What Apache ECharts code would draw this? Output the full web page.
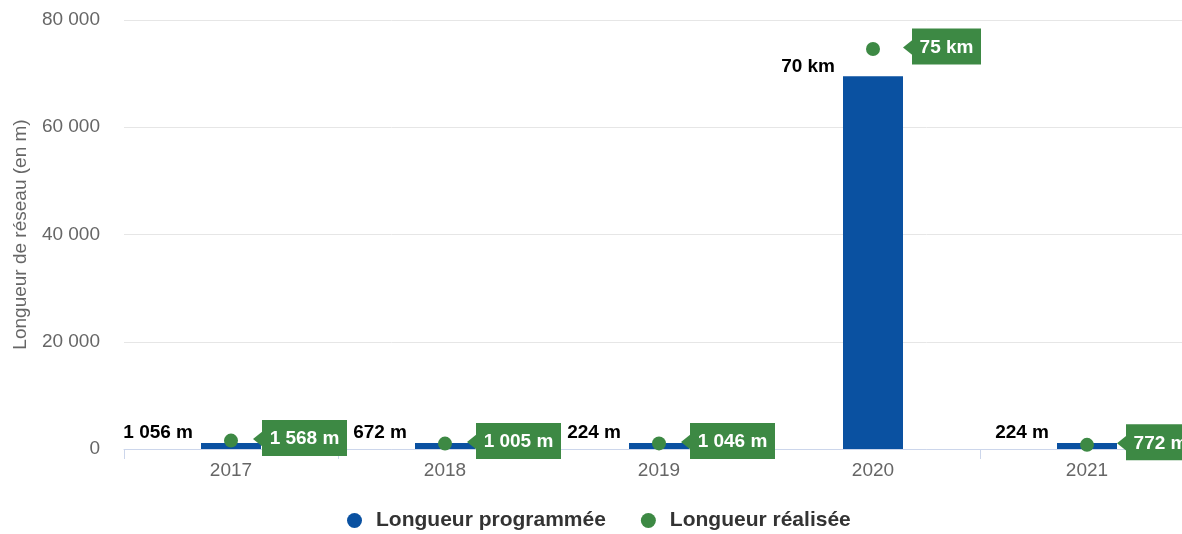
<!DOCTYPE html>
<html>
<head>
<meta charset="utf-8">
<script src="https://cdn.jsdelivr.net/npm/echarts@6/dist/echarts.min.js"></script>
<style>
  html, body { margin: 0; padding: 0; background: #fff; overflow: hidden; }
  /* drawn a little wider than the window: the right end is cut off, as in the original */
  #chart { width: 1194px; height: 534px; }
</style>
</head>
<body>
<div id="chart"></div>
<script>
var years = ['2017', '2018', '2019', '2020', '2021'];
var planned = [1056, 672, 224, 69500, 224];
var realised = [1568, 1005, 1046, 74600, 772];
var yTicks = [0, 20000, 40000, 60000, 80000];

var FONT = '"Liberation Sans", Arial, Helvetica, sans-serif';
var BLUE = '#0a51a1';
var GREEN = '#3d8944';

// "1 056 m" below 10 km, "70 km" above
function lengthLabel(v) {
  if (v >= 10000) return Math.round(v / 1000) + ' km';
  return spaced(v) + ' m';
}
function spaced(v) {
  return String(Math.round(v)).replace(/\B(?=(\d{3})+(?!\d))/g, ' ');
}

var measureCtx = document.createElement('canvas').getContext('2d');
function textWidth(t) {
  measureCtx.font = 'bold 19px ' + FONT;
  return measureCtx.measureText(t).width;
}

// green callout box with a left arrow, beside each "réalisée" point
function renderCallout(params, api) {
  var p = api.coord([api.value(0), api.value(1)]);
  var txt = lengthLabel(api.value(1));
  var w = Math.round(textWidth(txt) + 15);
  var h = 36;
  var cx = p[0] + 73.5;
  var cy = p[1] - 2.5;
  var left = cx - w / 2;
  var top = cy - h / 2;
  return {
    type: 'group',
    children: [
      { type: 'polygon', shape: { points: [[left - 9, cy + 1], [left + 1, cy - 7], [left + 1, cy + 9]] }, style: { fill: GREEN } },
      { type: 'rect', shape: { x: left, y: top, width: w, height: h }, style: { fill: GREEN } },
      { type: 'text', style: { text: txt, x: cx, y: cy + 1, align: 'center', verticalAlign: 'middle',
          fill: '#fff', fontSize: 19, fontWeight: 'bold', fontFamily: FONT } }
    ]
  };
}

var chart = echarts.init(document.getElementById('chart'), null, { renderer: 'canvas' });

chart.setOption({
  animation: false,
  backgroundColor: '#fff',
  textStyle: { fontFamily: FONT },
  grid: { left: 124, top: 20, right: 0, height: 429, containLabel: false },
  legend: {
    data: ['Longueur programmée', 'Longueur réalisée'],
    left: 347,
    top: 510,
    padding: 0,
    icon: 'circle',
    itemWidth: 15,
    itemHeight: 15,
    itemGap: 35,
    textStyle: { fontSize: 21, fontWeight: 'bold', color: '#333', fontFamily: FONT, padding: [0, 0, 0, 9] }
  },
  xAxis: {
    type: 'category',
    data: years,
    axisLine: { lineStyle: { color: '#ccd6eb', width: 1 } },
    axisTick: { show: true, length: 10, lineStyle: { color: '#ccd6eb' } },
    axisLabel: { color: '#666', fontSize: 19, margin: 12, fontFamily: FONT },
    splitLine: { show: false }
  },
  yAxis: {
    type: 'value',
    min: yTicks[0],
    max: yTicks[yTicks.length - 1],
    interval: 20000,
    name: 'Longueur de réseau (en m)',
    nameLocation: 'middle',
    nameGap: 94,
    nameTextStyle: { color: '#666', fontSize: 19, fontFamily: FONT },
    axisLine: { show: false },
    axisTick: { show: false },
    axisLabel: { color: '#666', fontSize: 19, margin: 24, fontFamily: FONT, formatter: spaced },
    splitLine: { lineStyle: { color: '#e6e6e6', width: 1 } }
  },
  series: [
    {
      name: 'Longueur programmée',
      type: 'bar',
      data: planned,
      barWidth: 60,
      barMinHeight: 6,
      itemStyle: { color: BLUE },
      label: {
        show: true,
        position: [-8, -10],
        align: 'right',
        verticalAlign: 'middle',
        color: '#000',
        fontSize: 19,
        fontWeight: 'bold',
        fontFamily: FONT,
        formatter: function (p) { return lengthLabel(p.value); }
      }
    },
    {
      name: 'Longueur réalisée',
      type: 'scatter',
      data: realised,
      symbol: 'circle',
      symbolSize: 14,
      itemStyle: { color: GREEN, opacity: 1 },
      z: 3
    },
    {
      name: 'callouts',
      type: 'custom',
      data: realised.map(function (v, i) { return [i, v]; }),
      renderItem: renderCallout,
      clip: false,
      silent: true,
      z: 4
    }
  ]
});
</script>
</body>
</html>
